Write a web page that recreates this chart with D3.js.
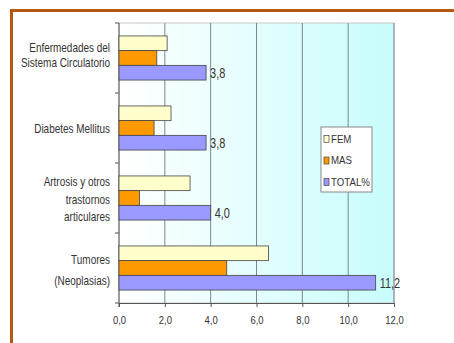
<!DOCTYPE html>
<html lang="es">
<head>
<meta charset="UTF-8">
<title>Enfermedades</title>
<script src="https://d3js.org/d3.v7.min.js"></script>
<style>
  body { margin: 0; background: #fff; }
  text { font-family: "Liberation Sans", Arial, sans-serif; fill: #333; }
</style>
</head>
<body>
<svg id="grafico" width="454" height="343"></svg>
<script>
// datos
var categorias = [
  ["Enfermedades del", "Sistema Circulatorio"],
  ["Diabetes Mellitus"],
  ["Artrosis y otros", "trastornos", "articulares"],
  ["Tumores", "(Neoplasias)"]
];
var series = ["FEM", "MAS", "TOTAL%"];
var fem = [2.1, 2.27, 3.1, 6.52];
var mas = [1.65, 1.53, 0.89, 4.7];
var total = [3.8, 3.8, 4.0, 11.2];
var etiquetasTotal = ["3,8", "3,8", "4,0", "11,2"];
var ticksX = [0, 2, 4, 6, 8, 10, 12];
var colores = ["#ffffcc", "#ff9900", "#9999ff"];

// interlineado y desplazamiento de las etiquetas de categoria
var interlineado = [15, 17, 17.5, 21];
var desplaz = [-2.5, 1, 1.5, 2.5];

var svg = d3.select("#grafico"),
    margin = { top: 23, right: 60, bottom: 40, left: 119 },
    width = 394 - margin.left,
    height = 303 - margin.top;

// marco marron
svg.append("path")
  .attr("d", "M11.5,343 L11.5,10.5 L454,10.5")
  .attr("fill", "none")
  .attr("stroke", "#b4570f")
  .attr("stroke-width", 3);

var defs = svg.append("defs");
var grad = defs.append("linearGradient").attr("id", "fondo")
  .attr("x1", "0%").attr("x2", "100%").attr("y1", "0%").attr("y2", "0%");
grad.append("stop").attr("offset", "0%").attr("stop-color", "#ffffff");
grad.append("stop").attr("offset", "100%").attr("stop-color", "#c8fcfc");

var g = svg.append("g").attr("transform", "translate(" + margin.left + "," + margin.top + ")");

var x = d3.scaleLinear().domain([0, 12]).range([0, width]);
var y = d3.scaleBand().domain(d3.range(categorias.length)).range([0, height]).paddingInner(0.37).paddingOuter(0.185);
var y1 = d3.scaleBand().domain(d3.range(series.length)).range([0, y.bandwidth()]);

g.append("rect").attr("width", width).attr("height", height).attr("fill", "url(#fondo)")
  .attr("stroke", "#c8c8c8").attr("stroke-width", 1);

// rejilla
g.selectAll(".grid").data(ticksX.slice(1)).enter().append("line")
  .attr("x1", function (d) { return x(d); }).attr("x2", function (d) { return x(d); })
  .attr("y1", 0).attr("y2", height)
  .attr("stroke", "#7a8a8a").attr("stroke-width", 1);

// eje X
var xAxis = g.append("g").attr("transform", "translate(0," + height + ")")
  .call(d3.axisBottom(x).tickValues(ticksX).tickSize(4).tickPadding(9)
    .tickFormat(function (d) { return d3.format(".1f")(d).replace(".", ","); }));
xAxis.select(".domain").attr("stroke", "#555");
xAxis.selectAll(".tick line").attr("stroke", "#555");
xAxis.selectAll(".tick text").each(function () {
  var t = d3.select(this);
  var yy = +t.attr("y");
  t.attr("y", null).attr("transform", "translate(0," + yy + ") scale(0.86,1)");
}).attr("font-size", 11).attr("fill", "#333").style("font-family", "'Liberation Sans', Arial, sans-serif");

// eje Y
var step = height / categorias.length;
var yTicks = d3.range(categorias.length + 1).map(function (i) { return i * step; });
g.append("line").attr("x1", 0).attr("x2", 0).attr("y1", 0).attr("y2", height + 4).attr("stroke", "#555");
g.selectAll(".ytick").data(yTicks).enter().append("line")
  .attr("x1", -4).attr("x2", 0)
  .attr("y1", function (d) { return d; }).attr("y2", function (d) { return d; })
  .attr("stroke", "#555");

// barras
var valores = [fem, mas, total];
var grupos = g.selectAll(".grupo").data(categorias).enter().append("g")
  .attr("transform", function (d, i) { return "translate(0," + y(i) + ")"; });

grupos.each(function (d, i) {
  var gg = d3.select(this);
  series.forEach(function (s, j) {
    gg.append("rect")
      .attr("x", 0)
      .attr("y", y1(j))
      .attr("width", x(valores[j][i]))
      .attr("height", y1.bandwidth())
      .attr("fill", colores[j])
      .attr("stroke", "#444")
      .attr("stroke-width", 0.8);
  });
  gg.append("text")
    .attr("transform", "translate(" + (x(total[i]) + 4) + "," + (y1(2) + y1.bandwidth() / 2) + ") scale(0.78,1)")
    .attr("dy", "0.36em")
    .attr("font-size", 14)
    .attr("fill", "#222")
    .text(etiquetasTotal[i]);

  // etiqueta de categoria
  var lineas = d;
  var lh = interlineado[i];
  var cy = y.bandwidth() / 2 - (lineas.length - 1) * lh / 2 + desplaz[i];
  var t = gg.append("text")
    .attr("text-anchor", "end")
    .attr("transform", "translate(-9,0) scale(0.83,1)")
    .attr("font-size", 12)
    .attr("fill", "#333");
  lineas.forEach(function (l, k) {
    t.append("tspan").attr("x", 0).attr("y", cy + k * lh).attr("dy", "0.35em").text(l);
  });
});

// leyenda
var ley = svg.append("g").attr("transform", "translate(321,127)");
ley.append("rect").attr("width", 51).attr("height", 65).attr("fill", "#fff").attr("stroke", "#888");
series.forEach(function (s, j) {
  var yy = 12 + j * 21.5;
  ley.append("rect").attr("x", 3).attr("y", yy - 3.5).attr("width", 5).attr("height", 7)
    .attr("fill", colores[j]).attr("stroke", "#444").attr("stroke-width", 0.7);
  ley.append("text").attr("transform", "translate(10," + yy + ") scale(0.88,1)").attr("dy", "0.36em")
    .attr("font-size", 11).attr("fill", "#333").text(s);
});
</script>
</body>
</html>
